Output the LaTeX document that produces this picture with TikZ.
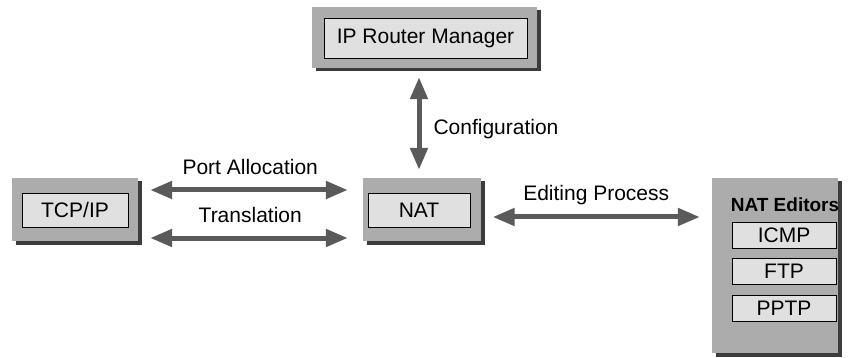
\documentclass[tikz,border=0pt]{standalone}
\usepackage{fontspec}
\setmainfont{Liberation Sans}
\usetikzlibrary{arrows.meta, shadows}
\definecolor{panelgray}{RGB}{172,172,172}
\definecolor{boxgray}{RGB}{224,224,224}
\definecolor{shadegray}{RGB}{60,60,60}
\definecolor{arrowgray}{RGB}{90,90,90}

\begin{document}
\begin{tikzpicture}[x=1pt, y=-1pt,
    panel/.style={fill=panelgray, inner sep=0pt,
        drop shadow={shadow xshift=4pt, shadow yshift=-3.5pt, fill=shadegray, opacity=1}},
    unit/.style={draw, fill=boxgray, line width=0.8pt, inner sep=0pt,
        font=\fontsize{21}{24}\selectfont},
    link/.style={{Triangle[length=22pt,width=17pt]}-{Triangle[length=22pt,width=17pt]},
        line width=5pt, arrowgray},
    lbl/.style={inner sep=0pt, text depth=0pt, text=black,
        font=\fontsize{21}{24}\selectfont}
]
    \useasboundingbox (0,0) rectangle (851,358);

    \node[panel, minimum width=225pt, minimum height=61pt] (rtro) at (424.5,37.5) {};
    \node[unit, minimum width=203pt, minimum height=40pt] (rtr) at (425.5,38) {IP Router Manager};

    \node[panel, minimum width=126pt, minimum height=63pt] (tcpo) at (75,209.5) {};
    \node[unit, minimum width=106pt, minimum height=34pt] (tcp) at (75,210) {TCP/IP};

    \node[panel, minimum width=118pt, minimum height=63pt] (nato) at (421.5,209.5) {};
    \node[unit, minimum width=102pt, minimum height=34pt] (nat) at (419,210) {NAT};

    % editors panel
    \node[panel, minimum width=126pt, minimum height=175pt] (edo) at (775,265.5) {};
    \node[font=\bfseries\fontsize{19}{22}\selectfont, inner sep=0pt] (edt) at (785,205) {NAT Editors};
    \node[unit, minimum width=104pt, minimum height=26pt] (icmp) at (784,235.5) {ICMP};
    \node[unit, minimum width=104pt, minimum height=26pt] (ftp) at (784,271.5) {FTP};
    \node[unit, minimum width=104pt, minimum height=26pt] (pptp) at (784,308.5) {PPTP};

    \draw[link, shorten <=9pt, shorten >=8pt]
        (rtro.south -| nat) -- node[lbl, right=12pt, yshift=-4pt]{Configuration} (nato.north -| nat);
    \draw[link, shorten <=12pt, shorten >=14.5pt]
        ([yshift=19.5pt]tcpo.east) -- node[lbl, above=13pt]{Port Allocation} ([yshift=19.5pt]nato.west);
    \draw[link, shorten <=12pt, shorten >=14.5pt]
        ([yshift=-28.5pt]tcpo.east) -- node[lbl, above=13pt]{Translation} ([yshift=-28.5pt]nato.west);
    \draw[link, shorten <=12pt, shorten >=12pt]
        ([yshift=-7.5pt]nato.east) -- node[lbl, above=14pt]{Editing Process} ([yshift=-7.5pt]nato.east -| edo.west);
\end{tikzpicture}
\end{document}
